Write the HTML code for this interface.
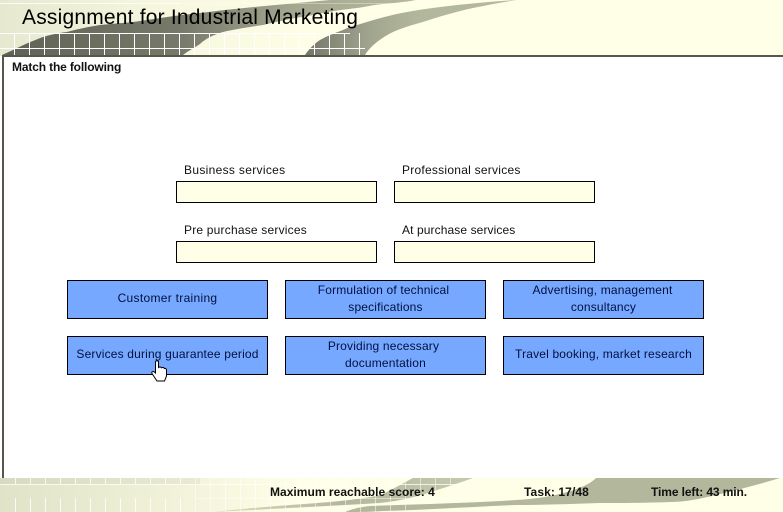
<!DOCTYPE html>
<html>
<head>
<meta charset="utf-8">
<style>
html,body{margin:0;padding:0;background:#fff}
#p{position:relative;width:783px;height:512px;overflow:hidden;background:#fff;font-family:"Liberation Sans",Arial,sans-serif;color:#000}
svg{position:absolute;left:0;top:0}
.t{position:absolute;white-space:nowrap}
.l{font-size:12px;letter-spacing:.2px;color:#111;line-height:14px}
.in{position:absolute;box-sizing:border-box;width:201px;height:22px;background:#ffffe8;border:1px solid #000}
.b{position:absolute;box-sizing:border-box;width:201px;height:39px;background:#77a8ff;border:1px solid #000;display:flex;align-items:center;justify-content:center;text-align:center;font-size:12px;line-height:17px;letter-spacing:.17px;color:#001040;padding:0 4px 2px}
.b span{position:relative}
.s{font-size:12px;font-weight:bold;line-height:14px;color:#111;letter-spacing:-.05px}
</style>
</head>
<body>
<div id="p">
<svg width="783" height="512" viewBox="0 0 783 512">
  <defs>
    <linearGradient id="hbg" gradientUnits="userSpaceOnUse" x1="0" y1="0" x2="330" y2="0">
      <stop offset="0" stop-color="#e6e8d0"/><stop offset=".5" stop-color="#f6f7de"/><stop offset="1" stop-color="#ffffe8"/>
    </linearGradient>
    <linearGradient id="d1" gradientUnits="userSpaceOnUse" x1="0" y1="0" x2="400" y2="0">
      <stop offset="0" stop-color="#5f6154"/><stop offset=".45" stop-color="#77796b"/><stop offset=".72" stop-color="#a3a68e"/><stop offset="1" stop-color="#b3b89c"/>
    </linearGradient>
    <linearGradient id="d2" gradientUnits="userSpaceOnUse" x1="305" y1="0" x2="420" y2="0">
      <stop offset="0" stop-color="#74766a"/><stop offset=".6" stop-color="#a4a790"/><stop offset="1" stop-color="#b3b89c"/>
    </linearGradient>
    <linearGradient id="fbg" gradientUnits="userSpaceOnUse" x1="0" y1="0" x2="300" y2="0">
      <stop offset="0" stop-color="#e0e3c8"/><stop offset=".65" stop-color="#f3f4db"/><stop offset="1" stop-color="#ffffe8"/>
    </linearGradient>
    <linearGradient id="fw" gradientUnits="userSpaceOnUse" x1="213" y1="0" x2="473" y2="0">
      <stop offset="0" stop-color="#d8dabf"/><stop offset=".5" stop-color="#b3b89c"/><stop offset="1" stop-color="#c6c9ae"/>
    </linearGradient>
  </defs>

  <!-- header -->
  <rect x="0" y="0" width="783" height="56" fill="#ffffe8"/>
  <rect x="0" y="0" width="330" height="56" fill="url(#hbg)"/>
  <path d="M2 55 L13 50 C25 44 35 40 43 37 C50 35 58 33 67 32 C78 29 88 27 100 25 C110 24 122 23 133 22 C155 19 178 15 200 13 C240 8 285 4 330 0 L416 0 C405 2 395 3 383 4 C372 5 365 7 357 8 C340 10 327 12 313 15 C295 18 280 21 263 25 C250 27 235 29 223 32 C213 35 205 39 200 44 C194 48 188 51 183 55Z" fill="url(#d1)"/>
  <path d="M305 55 C309 49 314 44 320 40 C327 36 335 33 343 30 C347 28 352 26 357 25 C373 20 390 15 407 12 C423 9 440 7 457 5 C477 3 497 1 517 0 C503 2 488 5 473 8 C455 12 438 17 423 22 C412 25 402 28 393 32 C387 35 382 38 377 42 C372 46 368 50 365 55Z" fill="url(#d2)"/>
  <g stroke="#fff" stroke-width="1" fill="none">
    <path d="M0 33.5H350M0 48.5H365"/>
    <path d="M14.5 33V55M29.5 33V55M44.5 33V55M59.5 33V55M74.5 33V55M89.5 33V55M104.5 33V55M119.5 33V55M134.5 33V55M149.5 33V55M164.5 33V55M179.5 33V55M194.5 33V55M209.5 33V55M224.5 33V55M239.5 33V55M254.5 33V55M269.5 33V55M284.5 33V55M299.5 33V55M314.5 33V55M329.5 33V55M344.5 33V55M359.5 33V55"/>
    <path d="M180 3.5H400" opacity=".35"/>
    <path d="M0 3.5H180" opacity=".8"/>
  </g>

  <!-- frame -->
  <rect x="2" y="55" width="781" height="2" fill="#55574a"/>
  <rect x="2" y="55" width="2" height="423" fill="#55574a"/>

  <!-- footer -->
  <rect x="0" y="478" width="783" height="34" fill="#ffffe8"/>
  <rect x="0" y="478" width="300" height="34" fill="url(#fbg)"/>
  <rect x="0" y="478" width="200" height="6" fill="#000" opacity=".04"/>
  <path d="M213 512 C250 508 290 505 330 502 C350 500 368 498 380 495 C388 492 398 486 413 478 L473 478 C462 482 450 486 437 490 C420 496 400 501 380 503 C330 506 270 509 213 512Z" fill="url(#fw)"/>
  <path d="M345 512 C352 509 360 507 370 506 C420 504 470 503 516 500 C550 498 570 492 584 486 C590 483 593 481 596 478 L780 478 C760 484 738 490 716 495 C700 499 685 502 670 502 C645 503 620 503 600 503 C570 504 540 505 516 505 C470 507 425 510 383 511 C370 512 355 512 345 512Z" fill="#b3b89c"/>
  <g stroke="#fff" stroke-width="1" fill="none">
    <path d="M0 484.5H470" opacity=".75"/>
    <path d="M195 498.5H480" opacity=".45"/>
    <path d="M15.5 478V484M30.5 478V484M45.5 478V484M60.5 478V484M75.5 478V484M90.5 478V484M105.5 478V484M120.5 478V484M135.5 478V484M150.5 478V484M165.5 478V484M180.5 478V484" opacity=".8"/>
    <path d="M15.5 498V512M30.5 498V512M45.5 498V512M60.5 498V512M75.5 498V512M90.5 498V512M105.5 498V512M120.5 498V512M135.5 498V512M150.5 498V512M165.5 498V512M180.5 498V512" opacity=".8"/>
    <path d="M195.5 478V512M210.5 478V512M225.5 478V512M240.5 478V512M255.5 478V512M270.5 478V512M285.5 478V512M300.5 478V512M315.5 478V512M330.5 478V512M345.5 478V512M360.5 478V512M375.5 478V512M390.5 478V512M405.5 478V512M420.5 478V490M435.5 478V490M450.5 478V490" opacity=".5"/>
  </g>
</svg>

<div class="t" style="left:22px;top:5px;font-size:21px;line-height:25px;letter-spacing:.2px">Assignment for Industrial Marketing</div>
<div class="t s" style="left:12px;top:60px;letter-spacing:-.15px">Match the following</div>

<div class="t l" style="left:184px;top:163px;letter-spacing:.32px">Business services</div>
<div class="t l" style="left:402px;top:163px;letter-spacing:.25px">Professional services</div>
<div class="in" style="left:176px;top:181px"></div>
<div class="in" style="left:394px;top:181px"></div>
<div class="t l" style="left:184px;top:223px">Pre purchase services</div>
<div class="t l" style="left:402px;top:223px;letter-spacing:.1px">At purchase services</div>
<div class="in" style="left:176px;top:241px"></div>
<div class="in" style="left:394px;top:241px"></div>

<div class="b" style="left:67px;top:280px;letter-spacing:.3px">Customer training</div>
<div class="b" style="left:285px;top:280px"><div><span style="left:-2px">Formulation of technical</span><br>specifications</div></div>
<div class="b" style="left:503px;top:280px"><div><span style="left:-1px">Advertising, management</span><br>consultancy</div></div>
<div class="b" style="left:67px;top:336px">Services during guarantee period</div>
<div class="b" style="left:285px;top:336px"><div><span style="left:-2px">Providing necessary</span><br>documentation</div></div>
<div class="b" style="left:503px;top:336px">Travel booking, market research</div>

<svg width="783" height="512" viewBox="0 0 783 512" style="pointer-events:none">
  <path d="M155.5 362 C155.5 360.3 158.5 360.3 158.5 362 V367.5 C160 366.5 161 367 161.5 367.8 C163 367 164 367.6 164.3 368.5 C165.5 368 166.5 369 166.5 370 V376 L164.5 381 H157 L152 373.5 C151 371.5 153.5 370.5 155.5 373Z" fill="#fff" stroke="#000" stroke-width="1"/>
</svg>

<div class="t s" style="left:270px;top:485px;letter-spacing:.03px">Maximum reachable score: 4</div>
<div class="t s" style="left:524px;top:485px;letter-spacing:.1px">Task: 17/48</div>
<div class="t s" style="left:651px;top:485px;letter-spacing:-.1px">Time left: 43 min.</div>
</div>
</body>
</html>
